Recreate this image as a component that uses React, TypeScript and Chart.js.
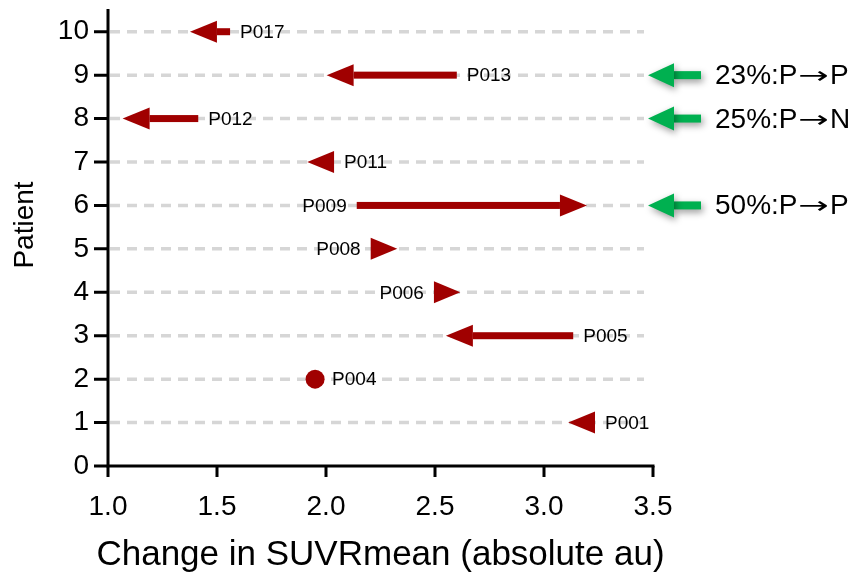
import React, { useEffect, useRef } from 'react';
import { Chart, registerables } from 'chart.js';

Chart.register(...registerables);

// ---- data ----
const patients = ['P001', 'P004', 'P005', 'P006', 'P008', 'P009', 'P011', 'P012', 'P013', 'P017'];
const patientRows = [1, 2, 3, 4, 5, 6, 7, 8, 9, 10];
const startValues = [3.234, 1.95, 3.134, 2.495, 2.205, 2.141, 2.037, 1.414, 2.6, 1.56];
const endValues = [3.111, 1.95, 2.55, 2.616, 2.327, 3.197, 1.914, 1.067, 2.003, 1.376];
const xTickValues = [1.0, 1.5, 2.0, 2.5, 3.0, 3.5];
const yTickValues = [0, 1, 2, 3, 4, 5, 6, 7, 8, 9, 10];
const noteRows = [9, 8, 6];
const notePercents = ['23%', '25%', '50%'];
const noteFrom = ['P', 'P', 'P'];
const noteTo = ['P', 'N', 'P'];
const xTitle = 'Change in SUVRmean (absolute au)';
const yTitle = 'Patient';

const FONT = '"Liberation Sans", Arial, Helvetica, sans-serif';
const RED = '#a00000';
const GREEN = '#00b050';

function drawArrow(ctx: CanvasRenderingContext2D, x0: number, x1: number, y: number,
  shaft: number, headLen: number, headHalf: number, color: string) {
  const dir = Math.sign(x1 - x0);
  const len = Math.abs(x1 - x0);
  ctx.fillStyle = color;
  if (len < 0.5) return;
  const hl = Math.min(headLen, len);
  const baseX = x1 - dir * hl;
  if (len > hl) {
    ctx.fillRect(Math.min(x0, baseX), y - shaft / 2, Math.abs(baseX - x0), shaft);
  }
  ctx.beginPath();
  ctx.moveTo(x1, y);
  ctx.lineTo(baseX, y - headHalf);
  ctx.lineTo(baseX, y + headHalf);
  ctx.closePath();
  ctx.fill();
}

const customPlugin = {
  id: 'customDraw',
  beforeDatasetsDraw(chart: any) {
    const { ctx, chartArea } = chart;
    const ys = chart.scales.y;
    ctx.save();
    ctx.strokeStyle = '#d6d6d6';
    ctx.lineWidth = 3.5;
    ctx.setLineDash([10, 7]);
    for (const v of yTickValues) {
      if (v === 0) continue;
      const y = ys.getPixelForValue(v);
      ctx.beginPath();
      ctx.moveTo(chartArea.left + 2, y);
      ctx.lineTo(chartArea.right - 9, y);
      ctx.stroke();
    }
    ctx.setLineDash([]);
    ctx.restore();
  },
  afterDatasetsDraw(chart: any) {
    const { ctx, chartArea } = chart;
    const xs = chart.scales.x;
    const ys = chart.scales.y;
    ctx.save();
    ctx.strokeStyle = '#000';
    ctx.lineWidth = 3;
    ctx.beginPath();
    ctx.moveTo(chartArea.left, chartArea.top - 1);
    ctx.lineTo(chartArea.left, chartArea.bottom + 1.5);
    ctx.moveTo(chartArea.left - 1.5, chartArea.bottom);
    ctx.lineTo(chartArea.right + 1.5, chartArea.bottom);
    ctx.stroke();
    ctx.beginPath();
    for (const v of yTickValues) {
      const y = ys.getPixelForValue(v);
      ctx.moveTo(chartArea.left - 14, y);
      ctx.lineTo(chartArea.left, y);
    }
    for (const v of xTickValues) {
      const x = xs.getPixelForValue(v);
      ctx.moveTo(x, chartArea.bottom);
      ctx.lineTo(x, chartArea.bottom + 11);
    }
    ctx.stroke();

    ctx.font = `19px ${FONT}`;
    ctx.textBaseline = 'middle';
    patients.forEach((name, i) => {
      const y = ys.getPixelForValue(patientRows[i]);
      const x0 = xs.getPixelForValue(startValues[i]);
      const x1 = xs.getPixelForValue(endValues[i]);
      const dir = Math.sign(x1 - x0);
      if (Math.abs(x1 - x0) < 0.5) {
        ctx.fillStyle = RED;
        ctx.beginPath();
        ctx.arc(x0, y, 9.5, 0, Math.PI * 2);
        ctx.fill();
        ctx.fillStyle = '#000';
        ctx.textAlign = 'left';
        ctx.fillText(name, x0 + 17, y + 1);
      } else {
        drawArrow(ctx, x0, x1, y, 7, 27, 11, RED);
        ctx.fillStyle = '#000';
        if (dir < 0) {
          ctx.textAlign = 'left';
          ctx.fillText(name, x0 + 10, y + 1);
        } else {
          ctx.textAlign = 'right';
          ctx.fillText(name, x0 - 10, y + 1);
        }
      }
    });
    ctx.restore();
  },
  afterDraw(chart: any) {
    const { ctx, chartArea } = chart;
    const ys = chart.scales.y;
    ctx.save();
    noteRows.forEach((row, i) => {
      const y = ys.getPixelForValue(row);
      ctx.save();
      ctx.shadowColor = 'rgba(0,0,0,0.4)';
      ctx.shadowBlur = 7;
      ctx.shadowOffsetX = 2;
      ctx.shadowOffsetY = 3;
      drawArrow(ctx, chartArea.right + 48, chartArea.right - 5, y, 8, 26, 12, GREEN);
      ctx.restore();
      ctx.fillStyle = '#000';
      ctx.textAlign = 'left';
      ctx.textBaseline = 'alphabetic';
      const base = y + 9;
      let x = chartArea.right + 62;
      ctx.font = `28px ${FONT}`;
      const first = `${notePercents[i]}:${noteFrom[i]}`;
      ctx.fillText(first, x, base);
      x += ctx.measureText(first).width + 1;
      ctx.save();
      ctx.font = `26px "DejaVu Sans", sans-serif`;
      ctx.translate(x, base - 1);
      ctx.scale(1.4, 0.9);
      ctx.fillText('→', 0, 0);
      const aw = ctx.measureText('→').width * 1.4;
      ctx.restore();
      x += aw + 1;
      ctx.font = `28px ${FONT}`;
      ctx.fillText(noteTo[i], x, base);
    });
    ctx.fillStyle = '#000';
    ctx.font = `35px ${FONT}`;
    ctx.textAlign = 'center';
    ctx.textBaseline = 'alphabetic';
    ctx.fillText(xTitle, (chartArea.left + chartArea.right) / 2, 565);
    ctx.save();
    ctx.translate(33, 225);
    ctx.rotate(-Math.PI / 2);
    ctx.font = `28px ${FONT}`;
    ctx.fillText(yTitle, 0, 0);
    ctx.restore();
    ctx.restore();
  },
};

export default function App() {
  const ref = useRef<HTMLCanvasElement | null>(null);
  useEffect(() => {
    document.body.style.margin = '0';
    if (!ref.current) return;
    const chart = new Chart(ref.current, {
      type: 'scatter',
      data: {
        datasets: [
          {
            label: 'start',
            data: patients.map((_, i) => ({ x: startValues[i], y: patientRows[i] })),
            pointRadius: 0,
            showLine: false,
          },
          {
            label: 'end',
            data: patients.map((_, i) => ({ x: endValues[i], y: patientRows[i] })),
            pointRadius: 0,
            showLine: false,
          },
        ],
      },
      options: {
        animation: false,
        responsive: false,
        maintainAspectRatio: false,
        events: [],
        layout: { padding: { left: 0, top: 10, right: 200, bottom: 0 } },
        plugins: { legend: { display: false }, tooltip: { enabled: false } },
        scales: {
          x: {
            type: 'linear',
            min: 1,
            max: 3.5,
            afterBuildTicks: (s: any) => { s.ticks = xTickValues.map((v) => ({ value: v })); },
            ticks: {
              callback: (v: any) => Number(v).toFixed(1),
              font: { size: 28, family: FONT },
              color: '#000',
              padding: 24,
              maxRotation: 0,
              autoSkip: false,
            },
            grid: { display: false, drawTicks: false },
            border: { display: false },
            afterFit: (s: any) => { s.height = 107; s.paddingLeft = 0; s.paddingRight = 0; },
          },
          y: {
            type: 'linear',
            min: 0,
            max: 10.5,
            afterBuildTicks: (s: any) => { s.ticks = yTickValues.map((v) => ({ value: v })); },
            ticks: {
              font: { size: 28, family: FONT },
              color: '#000',
              padding: 19,
              autoSkip: false,
            },
            grid: { display: false, drawTicks: false },
            border: { display: false },
            afterFit: (s: any) => { s.width = 108; s.paddingTop = 0; s.paddingBottom = 0; },
          },
        },
      },
      plugins: [customPlugin],
    });
    return () => chart.destroy();
  }, []);
  return (
    <div style={{ width: 853, height: 573 }}>
      <canvas ref={ref} width={853} height={573} style={{ display: 'block' }} />
    </div>
  );
}
